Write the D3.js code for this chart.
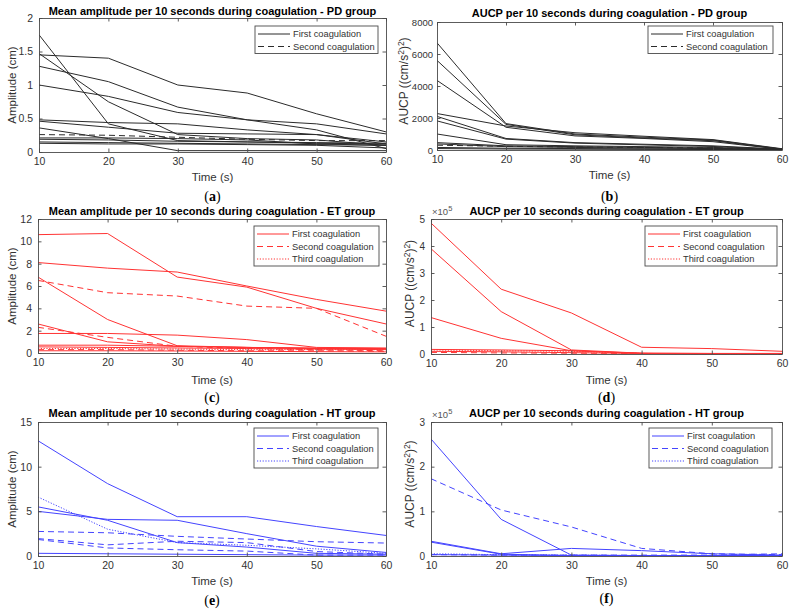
<!DOCTYPE html>
<html>
<head>
<meta charset="utf-8">
<script src="https://cdn.jsdelivr.net/npm/d3@7"></script>
<style>
  html, body { margin: 0; padding: 0; background: #fff; }
  svg { display: block; }
</style>
</head>
<body>
<svg id="chart" width="799" height="612"></svg>
<script>
// ---------------- DATA ----------------
const time = [10, 20, 30, 40, 50, 60];
const legendLabels = ["First coagulation", "Second coagulation", "Third coagulation"];

// (a) PD group – mean amplitude (cm)
const pdAmpFirst = [
  [1.75, 0.42, 0.17, 0.15, 0.13, 0.12],
  [1.47, 0.75, 0.26, 0.20, 0.18, 0.10],
  [1.45, 1.40, 1.00, 0.88, 0.57, 0.30],
  [1.28, 1.05, 0.67, 0.48, 0.33, 0.05],
  [1.00, 0.83, 0.59, 0.48, 0.42, 0.27],
  [0.48, 0.44, 0.42, 0.33, 0.26, 0.12],
  [0.46, 0.37, 0.28, 0.27, 0.26, 0.15],
  [0.36, 0.20, 0.02, 0.02, 0.02, 0.02],
  [0.21, 0.21, 0.20, 0.18, 0.12, 0.10],
  [0.19, 0.18, 0.16, 0.15, 0.14, 0.13],
  [0.15, 0.14, 0.13, 0.12, 0.11, 0.10],
  [0.13, 0.12, 0.12, 0.11, 0.10, 0.06]
];
const pdAmpSecond = [
  [0.26, 0.25, 0.22, 0.19, 0.17, 0.17]
];

// (b) PD group – AUCP ((cm/s^2)^2)
const pdAucFirst = [
  [6700, 1650, 1000, 800, 620, 60],
  [5600, 1600, 950, 750, 580, 50],
  [4350, 1420, 880, 720, 520, 40],
  [2280, 1500, 1080, 860, 650, 80],
  [2100, 720, 460, 360, 260, 50],
  [1820, 680, 430, 320, 220, 40],
  [1000, 330, 260, 210, 160, 30],
  [460, 260, 210, 160, 110, 20],
  [380, 210, 160, 120, 90, 20],
  [160, 110, 90, 70, 50, 10],
  [90, 60, 50, 40, 30, 10]
];
const pdAucSecond = [
  [300, 230, 190, 160, 130, 60]
];

// (c) ET group – mean amplitude (cm)
const etAmpFirst = [
  [10.6, 10.7, 6.8, 5.9, 4.0, 2.6],
  [8.1, 7.6, 7.25, 6.0, 4.8, 3.75],
  [6.8, 3.0, 0.65, 0.5, 0.4, 0.35],
  [2.6, 1.0, 0.6, 0.5, 0.45, 0.4],
  [1.75, 1.75, 1.6, 1.2, 0.5, 0.45],
  [0.7, 0.7, 0.6, 0.5, 0.4, 0.4],
  [0.55, 0.5, 0.45, 0.4, 0.35, 0.3],
  [0.2, 0.2, 0.18, 0.15, 0.12, 0.1]
];
const etAmpSecond = [
  [6.5, 5.4, 5.1, 4.2, 4.0, 1.5],
  [2.3, 1.4, 0.6, 0.4, 0.3, 0.2],
  [0.3, 0.3, 0.25, 0.2, 0.2, 0.15]
];
const etAmpThird = [
  [0.4, 0.4, 0.35, 0.3, 0.3, 0.3]
];

// (d) ET group – AUCP
const etAucFirst = [
  [485000, 240000, 152000, 25000, 20000, 10000],
  [390000, 157000, 15000, 3000, 2000, 2000],
  [135000, 58000, 12000, 2000, 1000, 1000],
  [17000, 15000, 12000, 3000, 2000, 2000],
  [10000, 8000, 5000, 2000, 1000, 1000]
];
const etAucSecond = [
  [6000, 4000, 3000, 2000, 1000, 1000]
];
const etAucThird = [
  [15000, 12000, 10000, 2000, 1000, 1000]
];

// (e) HT group – mean amplitude (cm)
const htAmpFirst = [
  [12.9, 8.1, 4.4, 4.4, 3.3, 2.3],
  [5.0, 4.1, 4.0, 2.5, 1.1, 0.4],
  [5.5, 4.0, 1.5, 1.0, 0.3, 0.2],
  [0.3, 0.25, 0.2, 0.15, 0.1, 0.1]
];
const htAmpSecond = [
  [2.75, 2.6, 2.2, 1.9, 1.6, 1.45],
  [1.95, 1.25, 1.65, 1.5, 0.5, 0.2],
  [1.85, 0.9, 0.7, 0.55, 0.1, 0.1]
];
const htAmpThird = [
  [6.6, 3.0, 1.5, 1.2, 0.8, 0.3]
];

// (f) HT group – AUCP
const htAucFirst = [
  [262000, 82000, 2000, 1000, 1000, 1000],
  [33000, 5000, 17000, 12000, 5000, 2000],
  [31000, 4000, 1000, 1000, 1000, 1000],
  [3000, 2000, 1000, 1000, 1000, 1000]
];
const htAucSecond = [
  [173000, 103000, 65000, 17000, 5000, 3000],
  [3000, 2000, 2000, 2000, 2000, 5000]
];
const htAucThird = [
  [5000, 3000, 2000, 1000, 1000, 1000]
];

const titles = [
  "Mean amplitude per 10 seconds during coagulation - PD group",
  "AUCP per 10 seconds during coagulation - PD group",
  "Mean amplitude per 10 seconds during coagulation - ET group",
  "AUCP per 10 seconds during coagulation - ET group",
  "Mean amplitude per 10 seconds during coagulation - HT group",
  "AUCP per 10 seconds during coagulation - HT group"
];
const panelLetters = ["a", "b", "c", "d", "e", "f"];
const xTicks = [10, 20, 30, 40, 50, 60];
const ampTicksPD = [0, 0.5, 1, 1.5, 2];
const aucTicksPD = [0, 2000, 4000, 6000, 8000];
const ampTicksET = [0, 2, 4, 6, 8, 10, 12];
const aucTicksET = [0, 100000, 200000, 300000, 400000, 500000];
const ampTicksHT = [0, 5, 10, 15];
const aucTicksHT = [0, 100000, 200000, 300000];

// ---------------- LAYOUT / STYLE ----------------
const FONT = "Arial, 'Liberation Sans', Helvetica, sans-serif";
const AXIS = "#4a4a4a";
const TXT = "#333";
const dashes = [null, "6,4", "1.2,1.6"];

const panels = [
  { L: 39, R: 386, T: 18, B: 152, ymax: 2, ticks: ampTicksPD, fmt: d => d,
    series: [pdAmpFirst, pdAmpSecond], color: "#2b2b2b", ylab: "amp", ylx: 12, ylOff: 0, yfs: 10.5, ypad: 6,
    leg: { x: 255, y: 26, w: 123 }, titleY: 15, xlabY: 181, capY: 201 },
  { L: 437, R: 782, T: 22, B: 150, ymax: 8000, ticks: aucTicksPD, fmt: d => d,
    series: [pdAucFirst, pdAucSecond], color: "#2b2b2b", ylab: "auc", ylx: 404, ylOff: -5, yfs: 9.5, ypad: 4,
    leg: { x: 648, y: 26, w: 125 }, titleY: 17, xlabY: 179, capY: 201 },
  { L: 38, R: 386, T: 219, B: 353, ymax: 12, ticks: ampTicksET, fmt: d => d,
    series: [etAmpFirst, etAmpSecond, etAmpThird], color: "#ff3333", ylab: "amp", ylx: 12, ylOff: 0, yfs: 10.5, ypad: 6,
    leg: { x: 254, y: 226, w: 125 }, titleY: 215, xlabY: 384, capY: 402 },
  { L: 431, R: 782, T: 219, B: 354, ymax: 500000, ticks: aucTicksET, fmt: d => d / 1e5, exp: true,
    series: [etAucFirst, etAucSecond, etAucThird], color: "#ff3333", ylab: "auc", ylx: 410, ylOff: -3, yfs: 10, ypad: 6,
    leg: { x: 645, y: 226, w: 132 }, titleY: 215, xlabY: 384, capY: 402 },
  { L: 38, R: 386, T: 422, B: 556, ymax: 15, ticks: ampTicksHT, fmt: d => d,
    series: [htAmpFirst, htAmpSecond, htAmpThird], color: "#4444ff", ylab: "amp", ylx: 12, ylOff: 0, yfs: 10.5, ypad: 6,
    leg: { x: 254, y: 428, w: 124 }, titleY: 417, xlabY: 585, capY: 605 },
  { L: 431, R: 782, T: 422, B: 556, ymax: 300000, ticks: aucTicksHT, fmt: d => d / 1e5, exp: true,
    series: [htAucFirst, htAucSecond, htAucThird], color: "#4444ff", ylab: "auc", ylx: 410, ylOff: -5, yfs: 10, ypad: 6,
    leg: { x: 649, y: 428, w: 123 }, titleY: 417, xlabY: 585, capY: 603 }
];

const svg = d3.select("#chart");
svg.append("rect").attr("width", 799).attr("height", 612).attr("fill", "#fff");

panels.forEach((p, i) => {
  const g = svg.append("g");
  const x = d3.scaleLinear().domain([10, 60]).range([p.L, p.R]);
  const y = d3.scaleLinear().domain([0, p.ymax]).range([p.B, p.T]);

  // clip
  const cid = "clip" + i;
  g.append("clipPath").attr("id", cid).append("rect")
    .attr("x", p.L).attr("y", p.T - 1).attr("width", p.R - p.L).attr("height", p.B - p.T + 2);

  // lines
  const line = d3.line().x((d, k) => x(time[k])).y(d => y(d));
  const lg = g.append("g").attr("clip-path", `url(#${cid})`);
  p.series.forEach((set, s) => {
    set.forEach(vals => {
      lg.append("path").attr("d", line(vals))
        .attr("fill", "none").attr("stroke", p.color)
        .attr("stroke-width", 1)
        .attr("stroke-dasharray", dashes[s]);
    });
  });

  // axes (inner ticks, box)
  const tickLen = 3.5;
  const xb = d3.axisBottom(x).tickValues(xTicks).tickSizeInner(-tickLen).tickSizeOuter(0).tickPadding(6);
  const xt = d3.axisTop(x).tickValues(xTicks).tickSizeInner(-tickLen).tickSizeOuter(0).tickFormat("");
  const yl = d3.axisLeft(y).tickValues(p.ticks).tickSizeInner(-tickLen).tickSizeOuter(0).tickPadding(p.ypad).tickFormat(p.fmt);
  const yr = d3.axisRight(y).tickValues(p.ticks).tickSizeInner(-tickLen).tickSizeOuter(0).tickFormat("");
  const axB = g.append("g").attr("transform", `translate(0,${p.B})`).call(xb);
  const axT = g.append("g").attr("transform", `translate(0,${p.T})`).call(xt);
  const axL = g.append("g").attr("transform", `translate(${p.L},0)`).call(yl);
  const axR = g.append("g").attr("transform", `translate(${p.R},0)`).call(yr);
  [axB, axT, axL, axR].forEach(a => {
    a.select(".domain").attr("stroke", AXIS).attr("stroke-width", 0.9);
    a.selectAll(".tick line").attr("stroke", AXIS).attr("stroke-width", 0.9);
    a.selectAll(".tick text").attr("fill", TXT).style("font-family", FONT);
  });
  axB.selectAll(".tick text").style("font-size", "10.5px");
  axL.selectAll(".tick text").style("font-size", p.yfs + "px");

  // exponent label
  if (p.exp) {
    const t = g.append("text").attr("x", p.L + 1).attr("y", p.T - 4)
      .attr("fill", "#555").style("font-family", FONT).style("font-size", "9.5px");
    t.append("tspan").text("\u00d710");
    t.append("tspan").attr("dy", -4).style("font-size", "7.5px").text("5");
  }

  // title
  g.append("text").attr("x", (p.L + p.R) / 2).attr("y", p.titleY)
    .attr("text-anchor", "middle").attr("fill", "#000")
    .style("font-family", FONT).style("font-size", "11px").style("font-weight", "bold")
    .text(titles[i]);

  // x label
  g.append("text").attr("x", (p.L + p.R) / 2).attr("y", p.xlabY)
    .attr("text-anchor", "middle").attr("fill", TXT)
    .style("font-family", FONT).style("font-size", "11.5px").text("Time (s)");

  // y label
  const ym = (p.T + p.B) / 2 + p.ylOff;
  const yt = g.append("text").attr("transform", `translate(${p.ylx + 4},${ym}) rotate(-90)`)
    .attr("text-anchor", "middle").attr("fill", TXT)
    .style("font-family", FONT).style("font-size", "11.5px");
  if (p.ylab === "amp") {
    yt.text("Amplitude (cm)");
  } else {
    yt.style("font-size", "12px");
    yt.append("tspan").text("AUCP ((cm/s");
    yt.append("tspan").attr("dy", -4).style("font-size", "8.5px").text("2");
    yt.append("tspan").attr("dy", 4).text(")");
    yt.append("tspan").attr("dy", -4).style("font-size", "8.5px").text("2");
    yt.append("tspan").attr("dy", 4).text(")");
  }

  // caption
  const cap = g.append("text").attr("x", (p.L + p.R) / 2).attr("y", p.capY)
    .attr("text-anchor", "middle").attr("fill", "#000")
    .style("font-family", "'Liberation Serif', 'DejaVu Serif', serif").style("font-size", "14px");
  cap.append("tspan").text("(");
  cap.append("tspan").style("font-weight", "bold").text(panelLetters[i]);
  cap.append("tspan").text(")");

  // legend
  const n = p.series.length;
  const rowH = 12.5;
  const lgd = g.append("g");
  lgd.append("rect").attr("x", p.leg.x).attr("y", p.leg.y)
    .attr("width", p.leg.w).attr("height", n * rowH + 2.5)
    .attr("fill", "#fff").attr("stroke", AXIS).attr("stroke-width", 0.9);
  for (let s = 0; s < n; s++) {
    const cy = p.leg.y + 8 + s * rowH;
    lgd.append("line").attr("x1", p.leg.x + 3).attr("x2", p.leg.x + 35)
      .attr("y1", cy).attr("y2", cy)
      .attr("stroke", p.color).attr("stroke-width", 1).attr("stroke-dasharray", dashes[s]);
    lgd.append("text").attr("x", p.leg.x + 38).attr("y", cy + 3.4)
      .attr("fill", TXT).style("font-family", FONT).style("font-size", "9.3px")
      .text(legendLabels[s]);
  }
});
</script>
</body>
</html>
